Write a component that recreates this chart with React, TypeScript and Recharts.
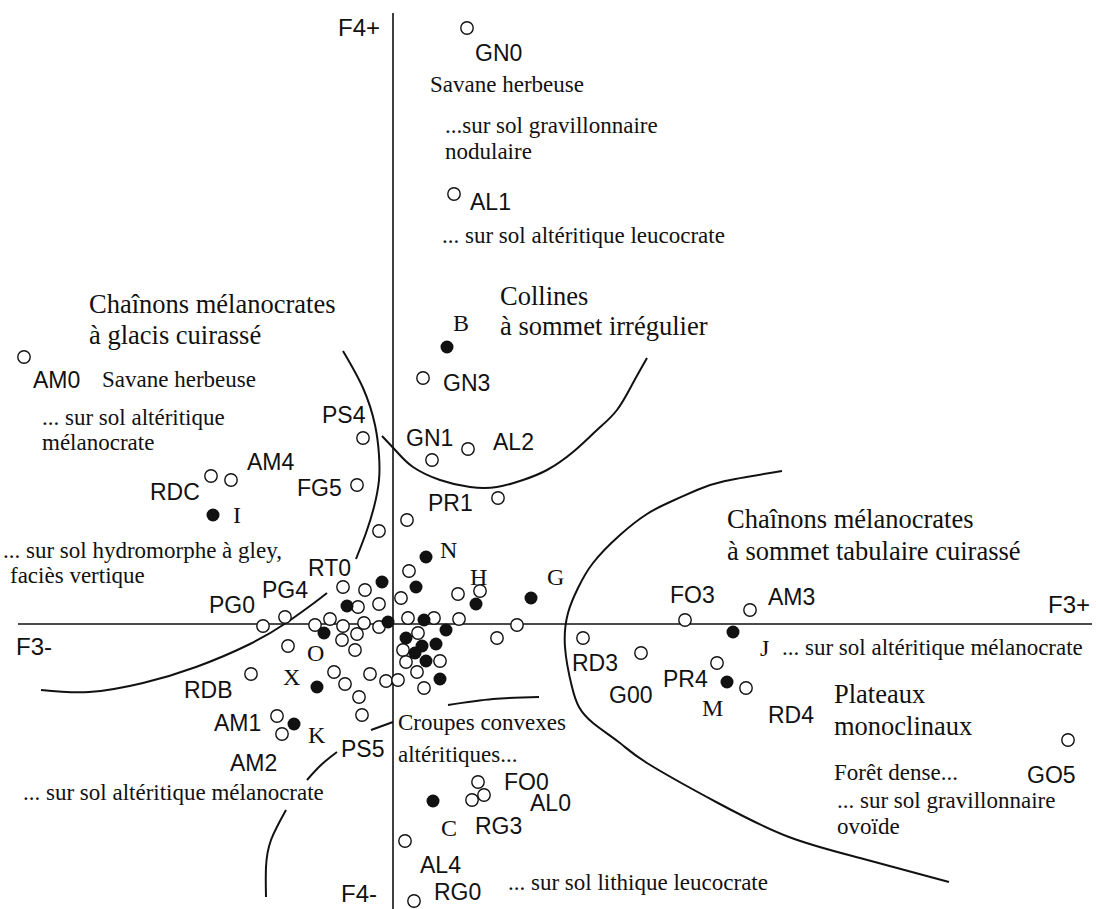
import React from "react";
import { ComposedChart, Scatter, Line, XAxis, YAxis, ReferenceLine } from "recharts";

const W = 1096;
const H = 909;
const SANS = "'Liberation Sans', Arial, sans-serif";
const SERIF = "'Liberation Serif', 'Times New Roman', serif";
const INK = "#111";

// factor plane F3 (x) / F4 (y)
const xDomain: [number, number] = [-3.93, 7.03];
const yDomain: [number, number] = [-2.85, 6.24];

// relevés (open circles)
const openPoints: [number, number][] = [
  [0.74, 5.96], [0.61, 4.3], [0.3, 2.46], [-0.3, 1.86], [0.39, 1.64], [0.75, 1.75],
  [-3.69, 2.67], [-1.82, 1.48], [-1.62, 1.44], [-0.36, 1.39], [1.05, 1.26], [0.14, 1.04], [-0.14, 0.93],
  [-0.5, 0.37], [-0.28, 0.34], [-0.35, 0.17], [-0.14, 0.2], [-0.78, -0.01], [-0.63, 0.05], [-0.5, -0.02],
  [-0.29, 0.01], [-0.14, -0.03], [-0.36, -0.1], [-0.51, -0.16], [-0.38, -0.26], [-1.08, 0.07], [-1.3, -0.02],
  [-1.05, -0.22], [-1.42, -0.5], [-0.59, -0.48], [-0.48, -0.6], [-0.23, -0.5], [-0.07, -0.57], [-0.34, -0.73],
  [-0.31, -0.91], [-1.16, -0.92], [-1.11, -1.1],
  [0.16, 0.53], [0.08, 0.26], [0.65, 0.3], [0.87, 0.33], [0.15, 0.06], [0.41, 0.06], [0.66, 0.05],
  [0.25, -0.09], [0.1, -0.26], [0.47, -0.37], [0.13, -0.38], [0.24, -0.48], [0.05, -0.56], [0.31, -0.64],
  [1.04, -0.14], [1.24, -0.01],
  [1.9, -0.14], [2.48, -0.29], [2.92, 0.04], [3.57, 0.14], [3.24, -0.39], [3.53, -0.64], [6.75, -1.16],
  [0.85, -1.58], [0.79, -1.76], [0.91, -1.71], [0.12, -2.17], [0.21, -2.77],
];

// unités de paysage (filled circles)
const filledPoints: [number, number][] = [
  [0.54, 2.77], [-1.8, 1.09], [0.33, 0.67], [-0.11, 0.42], [0.23, 0.37], [-0.46, 0.18], [-0.05, 0.02],
  [0.31, 0.04], [0.53, -0.06], [0.83, 0.2], [1.38, 0.26], [-0.69, -0.09], [0.13, -0.14], [0.29, -0.22],
  [0.43, -0.2], [0.22, -0.29], [0.33, -0.37], [0.47, -0.55], [-0.76, -0.63], [-0.99, -1.0], [0.4, -1.77],
  [3.4, -0.08], [3.34, -0.58],
];

// [text, F3, F4] : left edge / baseline of each label
const codeLabels: [string, number, number][] = [
  ["GN0", 0.82, 5.63], ["AL1", 0.77, 4.14], ["GN3", 0.5, 2.33], ["GN1", 0.13, 1.78], ["AL2", 1.0, 1.74],
  ["PS4", -0.71, 2.01], ["AM0", -3.6, 2.36], ["AM4", -1.46, 1.54], ["RDC", -2.43, 1.24], ["FG5", -0.96, 1.28],
  ["PR1", 0.35, 1.13], ["RT0", -0.85, 0.48], ["PG4", -1.31, 0.26], ["PG0", -1.84, 0.11], ["RDB", -2.09, -0.74],
  ["AM1", -1.79, -1.07], ["AM2", -1.63, -1.47], ["PS5", -0.52, -1.33], ["FO0", 1.11, -1.66], ["AL0", 1.37, -1.87],
  ["RG3", 0.82, -2.1], ["AL4", 0.27, -2.49], ["RG0", 0.41, -2.76], ["FO3", 2.77, 0.21], ["AM3", 3.75, 0.19],
  ["RD3", 1.79, -0.47], ["G00", 2.16, -0.79], ["PR4", 2.7, -0.63], ["RD4", 3.75, -0.99], ["GO5", 6.34, -1.59],
];

const axisLabels: [string, number, number][] = [
  ["F4+", -0.55, 5.88], ["F4-", -0.52, -2.78], ["F3-", -3.77, -0.31], ["F3+", 6.55, 0.11],
];

const letterLabels: [string, number, number][] = [
  ["B", 0.6, 2.93], ["I", -1.6, 1.01], ["N", 0.47, 0.66], ["H", 0.77, 0.39], ["G", 1.54, 0.39],
  ["O", -0.86, -0.37], ["X", -1.1, -0.61], ["K", -0.85, -1.19], ["C", 0.48, -2.12], ["J", 3.67, -0.32],
  ["M", 3.09, -0.92],
];

const zoneLabels: [string, number, number][] = [
  ["Chaînons mélanocrates", -3.04, 3.11], ["à glacis cuirassé", -3.04, 2.8],
  ["Collines", 1.07, 3.19], ["à sommet irrégulier", 1.07, 2.89],
  ["Chaînons mélanocrates", 3.34, 0.96], ["à sommet tabulaire cuirassé", 3.34, 0.64],
  ["Plateaux", 4.41, -0.79], ["monoclinaux", 4.41, -1.11],
];

const noteLabels: [string, number, number][] = [
  ["Savane herbeuse", 0.37, 5.32], ["...sur sol gravillonnaire", 0.52, 4.91], ["nodulaire", 0.52, 4.65],
  ["... sur sol altéritique leucocrate", 0.49, 3.81],
  ["Savane herbeuse", -2.91, 2.37], ["... sur sol altéritique", -3.51, 1.99], ["mélanocrate", -3.51, 1.74],
  ["... sur sol hydromorphe à gley,", -3.9, 0.66], ["faciès vertique", -3.83, 0.41],
  ["... sur sol altéritique mélanocrate", -3.7, -1.76],
  ["Croupes convexes", 0.05, -1.06], ["altéritiques...", 0.05, -1.38],
  ["... sur sol lithique leucocrate", 1.15, -2.66],
  ["... sur sol altéritique mélanocrate", 3.89, -0.31],
  ["Forêt dense...", 4.41, -1.56], ["... sur sol gravillonnaire", 4.44, -1.84], ["ovoïde", 4.44, -2.1],
];

// zone boundaries
const glacisCurve: [number, number][] = [
  [-0.5, 2.73], [-0.3, 2.36], [-0.18, 1.99], [-0.14, 1.69], [-0.14, 1.44], [-0.19, 1.17], [-0.27, 0.91], [-0.37, 0.65],
];
const collinesCurve: [number, number][] = [
  [-0.11, 1.88], [0.04, 1.72], [0.2, 1.57], [0.47, 1.44], [0.77, 1.37], [1.04, 1.37], [1.3, 1.44],
  [1.54, 1.54], [1.8, 1.72], [2.04, 1.94], [2.24, 2.14], [2.4, 2.41], [2.54, 2.66],
];
const gleyCurve: [number, number][] = [
  [-0.66, 0.31], [-0.79, 0.21], [-1.07, 0.01], [-1.43, -0.2], [-1.97, -0.43], [-2.5, -0.59], [-3.04, -0.68], [-3.52, -0.66],
];
const tabulaireCurve: [number, number][] = [
  [3.89, 1.53], [3.32, 1.43], [3.04, 1.34], [2.77, 1.22], [2.54, 1.1], [2.27, 0.89], [2.0, 0.61], [1.85, 0.36],
  [1.75, 0.11], [1.72, -0.23], [1.79, -0.63], [1.86, -0.83], [2.0, -0.99], [2.27, -1.19], [2.54, -1.39],
  [3.25, -1.79], [3.96, -2.13], [4.67, -2.34], [5.56, -2.58],
];
const croupesTop: [number, number][] = [[0.55, -0.81], [1.0, -0.75], [1.46, -0.73]];
const croupesMid: [number, number][] = [[-0.22, -1.06], [0.0, -0.98]];
const croupesLow: [number, number][] = [[-0.86, -1.56], [-0.72, -1.41], [-0.56, -1.28]];
const croupesFoot: [number, number][] = [[-1.07, -1.86], [-1.22, -2.16], [-1.27, -2.43], [-1.27, -2.73]];

const curves = [glacisCurve, collinesCurve, gleyCurve, tabulaireCurve, croupesTop, croupesMid, croupesLow, croupesFoot];

const toXY = (pts: [number, number][]) => pts.map(([x, y]) => ({ x, y }));
const toText = (rows: [string, number, number][]) => rows.map(([label, x, y]) => ({ x, y, label }));

const textShape = (size: number, family: string) => (props: any) => (
  <text x={props.cx} y={props.cy} fontSize={size} fontFamily={family} fill={INK}>
    {props.payload.label}
  </text>
);

const openDot = (props: any) => (
  <circle cx={props.cx} cy={props.cy} r={6.2} fill="#fff" stroke={INK} strokeWidth={1.4} />
);
const filledDot = (props: any) => (
  <circle cx={props.cx} cy={props.cy} r={6.5} fill={INK} stroke="none" />
);

export default function App() {
  return (
    <div style={{ position: "absolute", left: 0, top: 0, width: W, height: H, background: "#fff" }}>
      <ComposedChart width={W} height={H} margin={{ top: 0, right: 0, bottom: 0, left: 0 }}>
        <XAxis type="number" dataKey="x" domain={xDomain} allowDataOverflow hide />
        <YAxis type="number" dataKey="y" domain={yDomain} allowDataOverflow hide />
        <ReferenceLine
          segment={[{ x: -3.75, y: 0 }, { x: 6.99, y: 0 }]}
          stroke={INK}
          strokeWidth={1.6}
          ifOverflow="visible"
        />
        <ReferenceLine
          segment={[{ x: 0, y: 6.11 }, { x: 0, y: -2.85 }]}
          stroke={INK}
          strokeWidth={1.6}
          ifOverflow="visible"
        />
        {curves.map((c, i) => (
          <Line
            key={i}
            data={toXY(c)}
            dataKey="y"
            type="natural"
            stroke={INK}
            strokeWidth={2}
            dot={false}
            activeDot={false}
            legendType="none"
            isAnimationActive={false}
          />
        ))}
        <Scatter data={toXY(openPoints)} shape={openDot} isAnimationActive={false} />
        <Scatter data={toXY(filledPoints)} shape={filledDot} isAnimationActive={false} />
        <Scatter data={toText(codeLabels)} shape={textShape(23, SANS)} isAnimationActive={false} />
        <Scatter data={toText(axisLabels)} shape={textShape(24, SANS)} isAnimationActive={false} />
        <Scatter data={toText(letterLabels)} shape={textShape(24, SERIF)} isAnimationActive={false} />
        <Scatter data={toText(zoneLabels)} shape={textShape(26.5, SERIF)} isAnimationActive={false} />
        <Scatter data={toText(noteLabels)} shape={textShape(23, SERIF)} isAnimationActive={false} />
      </ComposedChart>
    </div>
  );
}
